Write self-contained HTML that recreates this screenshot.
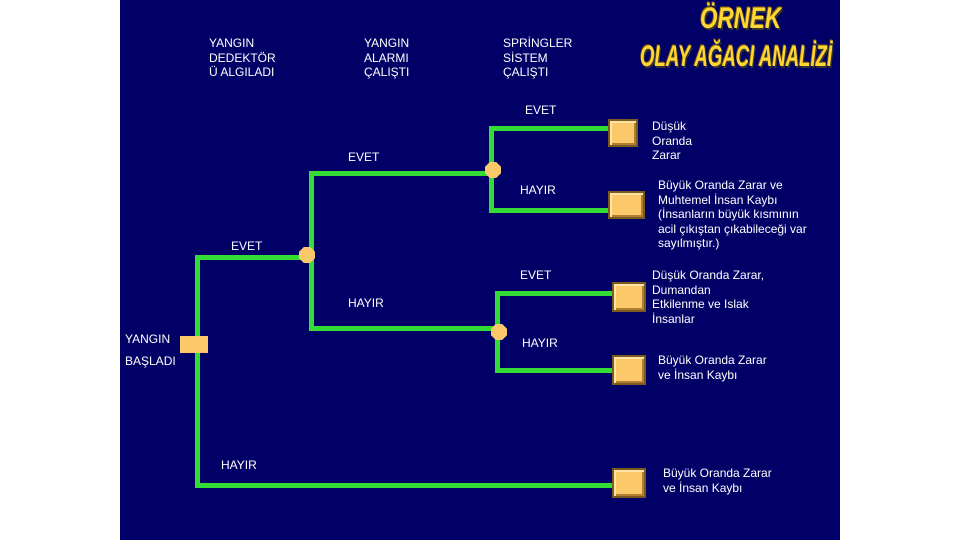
<!DOCTYPE html>
<html><head><meta charset="utf-8"><style>
body{margin:0;width:960px;height:540px;background:#fff;overflow:hidden;position:relative;font-family:"Liberation Sans",sans-serif}
#s{position:absolute;left:120px;top:0;width:720px;height:540px;background:#000066}
.t{position:absolute;color:#fff;font-size:12px;line-height:14.5px;white-space:nowrap}
.g{position:absolute;background:#33dd33}
.b{position:absolute;background:#fcc96a;border:2px solid #7a5a20;box-shadow:inset 2px 2px 0 #ffe4a8,inset -2px -2px 0 #b08030}
.o{position:absolute;width:16px;height:16px;background:#fcc96a;clip-path:polygon(30% 0,70% 0,100% 30%,100% 70%,70% 100%,30% 100%,0 70%,0 30%)}
.h{position:absolute;color:#ffd633;font-weight:bold;font-style:italic;font-family:"Liberation Sans Narrow","Liberation Sans",sans-serif;text-shadow:2px 2px 0 #333,-1px -1px 0 #886600;transform:scaleX(0.75);transform-origin:left top;white-space:nowrap}
</style></head><body>
<div id="s"></div>
<div class="h" style="left:700px;top:2px;font-size:30px">ÖRNEK</div>
<div class="h" style="left:640px;top:40px;font-size:30px;transform:scaleX(0.62)">OLAY AĞACI ANALİZİ</div>

<div class="t" style="left:209px;top:36px">YANGIN<br>DEDEKTÖR<br>Ü ALGILADI</div>
<div class="t" style="left:364px;top:36px">YANGIN<br>ALARMI<br>ÇALIŞTI</div>
<div class="t" style="left:503px;top:36px">SPRİNGLER<br>SİSTEM<br>ÇALIŞTI</div>

<!-- lines -->
<div class="g" style="left:195px;top:255px;width:5px;height:233px"></div>
<div class="g" style="left:195px;top:255px;width:112px;height:5px"></div>
<div class="g" style="left:309px;top:171px;width:5px;height:160px"></div>
<div class="g" style="left:309px;top:171px;width:184px;height:5px"></div>
<div class="g" style="left:489px;top:126px;width:5px;height:86px"></div>
<div class="g" style="left:489px;top:126px;width:122px;height:5px"></div>
<div class="g" style="left:489px;top:208px;width:122px;height:5px"></div>
<div class="g" style="left:309px;top:326px;width:190px;height:5px"></div>
<div class="g" style="left:495px;top:291px;width:5px;height:82px"></div>
<div class="g" style="left:495px;top:291px;width:120px;height:5px"></div>
<div class="g" style="left:495px;top:368px;width:118px;height:5px"></div>
<div class="g" style="left:195px;top:483px;width:418px;height:5px"></div>

<div class="o" style="left:485px;top:162px"></div>
<div class="o" style="left:299px;top:247px"></div>
<div class="o" style="left:491px;top:324px"></div>
<div style="position:absolute;left:180px;top:336px;width:28px;height:17px;background:#fcc96a"></div>

<div class="b" style="left:608px;top:119px;width:26px;height:24px"></div>
<div class="b" style="left:608px;top:191px;width:33px;height:24px"></div>
<div class="b" style="left:612px;top:282px;width:30px;height:26px"></div>
<div class="b" style="left:612px;top:355px;width:30px;height:26px"></div>
<div class="b" style="left:612px;top:468px;width:30px;height:26px"></div>

<div class="t" style="left:525px;top:103px">EVET</div>
<div class="t" style="left:348px;top:150px">EVET</div>
<div class="t" style="left:520px;top:183px">HAYIR</div>
<div class="t" style="left:231px;top:239px">EVET</div>
<div class="t" style="left:520px;top:268px">EVET</div>
<div class="t" style="left:348px;top:296px">HAYIR</div>
<div class="t" style="left:522px;top:336px">HAYIR</div>
<div class="t" style="left:125px;top:332px">YANGIN</div>
<div class="t" style="left:125px;top:354px">BAŞLADI</div>
<div class="t" style="left:221px;top:458px">HAYIR</div>

<div class="t" style="left:652px;top:119px">Düşük<br>Oranda<br>Zarar</div>
<div class="t" style="left:658px;top:178px">Büyük Oranda Zarar ve<br>Muhtemel İnsan Kaybı<br>(İnsanların büyük kısmının<br>acil çıkıştan çıkabileceği var<br>sayılmıştır.)</div>
<div class="t" style="left:652px;top:268px">Düşük Oranda Zarar,<br>Dumandan<br>Etkilenme ve Islak<br>İnsanlar</div>
<div class="t" style="left:658px;top:353px">Büyük Oranda Zarar<br>ve İnsan Kaybı</div>
<div class="t" style="left:663px;top:466px">Büyük Oranda Zarar<br>ve İnsan Kaybı</div>
</body></html>
